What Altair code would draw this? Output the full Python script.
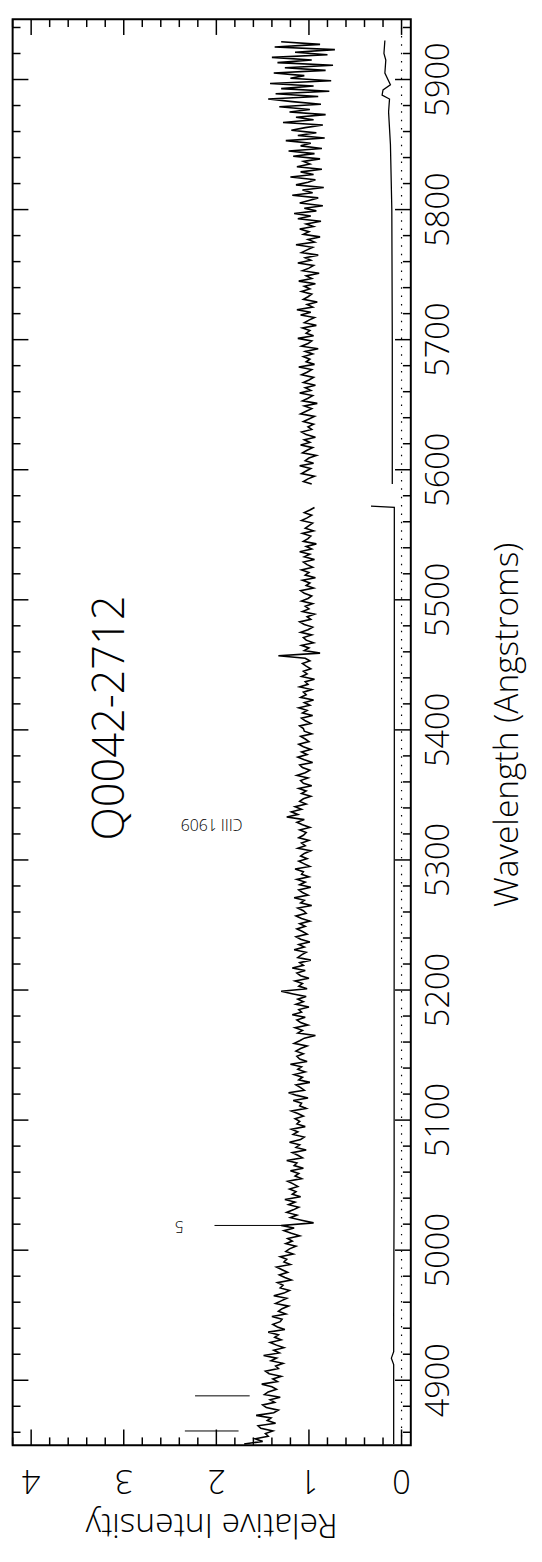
import altair as alt
import pandas as pd

# ---------------- data ----------------
# spectrum, segment A (blue of the gap), sampled every 2 Angstrom from 4851
SEG_A_START = 4851
SEG_A_STEP = 2
flux_a = [
    1.70, 1.50, 1.58, 1.44, 1.47, 1.39, 1.52, 1.55, 1.36, 1.45, 1.41, 1.57, 1.38, 1.33, 1.46, 1.50, 1.37, 1.42, 1.31, 1.48, 1.44, 1.35, 1.40, 1.51, 1.34,
    1.39, 1.30, 1.43, 1.47, 1.33, 1.36, 1.28, 1.41, 1.35, 1.49, 1.32, 1.38, 1.27, 1.35, 1.42, 1.30, 1.37, 1.33, 1.44, 1.26, 1.34, 1.39, 1.31, 1.29, 1.40,
    1.25, 1.33, 1.29, 1.22, 1.36, 1.30, 1.24, 1.38, 1.27, 1.21, 1.31, 1.28, 1.34, 1.19, 1.26, 1.32, 1.23, 1.29, 1.35, 1.20, 1.27, 1.24, 1.31, 1.17, 1.25,
    1.21, 1.14, 1.25, 1.18, 1.23, 1.10, 1.19, 1.27, 1.16, 1.30, 0.95, 1.08, 1.20, 1.13, 1.24, 1.17, 1.11, 1.22, 1.15, 1.26, 1.09, 1.18, 1.14, 1.21, 1.12,
    1.17, 1.23, 1.08, 1.15, 1.11, 1.20, 1.06, 1.16, 1.13, 1.24, 1.07, 1.12, 1.18, 1.03, 1.14, 1.10, 1.21, 1.09, 1.05, 1.17, 1.12, 1.19, 1.04, 1.13, 1.10,
    1.15, 1.06, 1.12, 1.19, 1.03, 1.10, 1.08, 1.17, 1.01, 1.13, 1.22, 1.05, 1.09, 1.14, 0.99, 1.11, 1.07, 1.16, 1.04, 1.12, 1.08, 1.20, 1.02, 1.10, 1.13,
    1.06, 1.14, 1.09, 1.02, 1.16, 1.10, 1.05, 0.93, 1.12, 1.07, 1.15, 1.01, 1.09, 1.13, 1.04, 1.18, 1.08, 1.11, 1.00, 1.14, 1.06, 1.12, 1.03, 1.17, 1.30,
    1.02, 1.11, 1.07, 1.15, 1.00, 1.09, 1.13, 1.04, 1.18, 1.06, 1.10, 0.98, 1.12, 1.08, 1.03, 1.16, 1.05, 1.11, 0.99, 1.09, 1.14, 1.02, 1.07, 1.13, 1.04,
    1.10, 0.99, 1.08, 1.14, 1.03, 1.06, 1.12, 0.97, 1.09, 1.05, 1.16, 1.01, 1.07, 1.11, 0.98, 1.10, 1.04, 1.13, 1.00, 1.08, 1.06, 1.15, 0.99, 1.05, 1.11,
    1.02, 1.09, 1.05, 0.98, 1.12, 1.04, 1.08, 1.00, 1.11, 1.06, 1.03, 1.10, 0.99, 1.07, 1.13, 1.05, 1.24, 1.12, 1.19, 1.08, 1.15, 1.03, 1.10, 1.06, 0.98,
    1.08, 1.03, 1.11, 0.97, 1.06, 1.09, 1.01, 1.13, 1.04, 0.99, 1.07, 1.10, 0.96, 1.05, 1.12, 1.02, 1.08, 0.98, 1.06, 1.11, 1.00, 1.04, 1.09, 0.97, 1.05,
    1.06, 1.10, 0.98, 1.04, 1.08, 0.96, 1.07, 1.02, 1.11, 0.99, 1.05, 0.95, 1.09, 1.03, 1.06, 0.97, 1.10, 1.01, 1.04, 0.94, 1.08, 1.02, 1.06, 0.98, 1.03,
    1.07, 0.99, 1.04, 1.33, 0.88, 1.05, 1.00, 1.08, 0.95, 1.03, 1.06, 0.97, 1.09, 1.01, 0.96, 1.05, 1.10, 0.98, 1.02, 0.94, 1.07, 1.00, 1.04, 0.96, 1.08,
    1.01, 0.97, 1.05, 1.09, 0.95, 1.03, 0.99, 1.07, 0.93, 1.04, 1.00, 1.08, 0.96, 1.02, 1.06, 0.94, 1.05, 0.99, 1.10, 0.97, 1.03, 0.92, 1.06, 1.01, 0.98,
    1.07, 0.95, 1.04, 1.00, 0.96, 1.08, 1.02, 0.97, 1.05, 0.99, 0.94,
]
# spectrum, segment B (red of the gap)
SEG_B_START = 5589
SEG_B_STEP = 2
flux_b = [
    0.97, 1.06, 1.01, 0.94, 1.08, 1.03, 0.98, 1.10, 0.95, 1.04, 1.00, 0.92, 1.07, 1.02, 0.96, 1.09, 0.99, 1.05, 0.93, 1.03, 1.08, 0.97, 1.01, 0.95, 1.06,
    1.00, 0.94, 1.09, 1.03, 0.97, 1.05, 0.91, 1.07, 1.01, 0.96, 1.10, 0.98, 1.04, 0.93, 1.06, 1.00, 0.95, 1.08, 1.02, 0.97, 1.11, 0.94, 1.03, 0.99, 1.06,
    0.96, 1.04, 0.90, 1.08, 1.01, 0.97, 1.12, 0.95, 1.03, 0.99, 1.07, 0.92, 1.05, 1.00, 0.94, 1.09, 0.98, 1.13, 0.96, 1.02, 0.91, 1.06, 1.01, 0.97, 1.08,
    0.99, 1.05, 0.93, 1.11, 0.97, 1.03, 0.89, 1.07, 1.00, 0.95, 1.12, 0.98, 1.04, 0.90, 1.08, 1.02, 0.96, 1.14, 0.94, 1.01, 0.88, 1.06, 1.00, 1.10, 0.95,
    1.03, 0.87, 1.12, 0.98, 1.16, 0.92, 1.05, 0.85, 1.10, 1.00, 0.90, 1.18, 0.96, 1.07, 0.84, 1.14, 1.01, 0.93, 1.20, 0.95, 1.09, 0.86, 1.13, 0.99, 1.06,
    0.88, 1.17, 0.94, 1.22, 0.86, 1.09, 0.98, 1.25, 0.83, 1.12, 0.92, 1.19, 1.04, 0.85, 1.28, 0.95, 1.14, 0.82, 1.21, 0.99, 1.32, 0.87, 1.18, 1.44, 0.90,
    1.36, 0.78, 1.30, 0.95, 1.42, 0.76, 1.20, 1.05, 1.38, 0.82, 1.26, 0.74, 1.34, 0.97, 1.40, 0.80, 1.15, 0.72, 1.37, 0.88, 1.30,
]

# error spectrum (sigma)
err_wl_a = [4851, 4880, 4912, 4917, 4922, 4950, 5050, 5200, 5350, 5500, 5571, 5572]
err_a = [0.085, 0.085, 0.085, 0.11, 0.085, 0.085, 0.08, 0.08, 0.078, 0.078, 0.078, 0.33]
err_wl_b = [5589, 5700, 5800, 5850, 5875, 5885, 5888, 5892, 5896, 5905, 5915, 5920, 5930]
err_b = [0.10, 0.10, 0.105, 0.12, 0.14, 0.13, 0.21, 0.20, 0.12, 0.18, 0.17, 0.19, 0.18]

# line identification marks
mark_wl = [4861, 4888, 5019]
mark_x1 = [2.34, 2.23, 2.02]
mark_x2 = [1.76, 1.64, 1.22]
label_text = ["5", "CIII 1909"]
label_wl = [5019, 5328]
label_x = [2.40, 2.05]

# axes
int_major = [0, 1, 2, 3, 4]
int_minor = [0.2, 0.4, 0.6, 0.8, 1.2, 1.4, 1.6, 1.8, 2.2, 2.4, 2.6, 2.8,
             3.2, 3.4, 3.6, 3.8, 4.2]
wl_major = [4900, 5000, 5100, 5200, 5300, 5400, 5500, 5600, 5700, 5800, 5900]
wl_minor = [w for w in range(4860, 5950, 20) if w % 100 != 0]

TITLE = "Q0042-2712"
XTITLE = "Relative  Intensity"
YTITLE = "Wavelength  (Angstroms)"

# ---------------- layout ----------------
W, H = 404, 1447
XDOM = [-0.1, 4.2]
YDOM = [4850, 5946.4]
FONT = "Open Sans"
FW = 300
MAJ, MIN = 16, 8

xs = alt.Scale(domain=XDOM, reverse=True, nice=False, zero=False)
ys = alt.Scale(domain=YDOM, nice=False, zero=False)

spec_rows = []
for i, f in enumerate(flux_a):
    spec_rows.append({"wl": SEG_A_START + SEG_A_STEP * i, "flux": f, "seg": "a"})
for i, f in enumerate(flux_b):
    spec_rows.append({"wl": SEG_B_START + SEG_B_STEP * i, "flux": f, "seg": "b"})
spec = pd.DataFrame(spec_rows)

err_rows = [{"wl": w, "err": e, "seg": "a"} for w, e in zip(err_wl_a, err_a)]
err_rows += [{"wl": w, "err": e, "seg": "b"} for w, e in zip(err_wl_b, err_b)]
errdf = pd.DataFrame(err_rows)

X = lambda f: alt.X(f, type="quantitative", scale=xs, axis=None)
Y = lambda f: alt.Y(f, type="quantitative", scale=ys, axis=None)

spec_line = alt.Chart(spec).mark_line(color="black", strokeWidth=1.6, clip=True).encode(
    x=X("flux"), y=Y("wl"), detail="seg:N", order="wl:Q")
err_line = alt.Chart(errdf).mark_line(color="black", strokeWidth=1.3, clip=True).encode(
    x=X("err"), y=Y("wl"), detail="seg:N", order="wl:Q")

zero_line = alt.Chart(pd.DataFrame({"z": [0]})).mark_rule(
    color="black", strokeWidth=1.2, strokeDash=[1.5, 7]).encode(x=X("z"))

mk = pd.DataFrame({"wl": mark_wl, "x1": mark_x1, "x2": mark_x2})
mark_lines = alt.Chart(mk).mark_rule(color="black", strokeWidth=1).encode(
    y=Y("wl"), x=X("x1"), x2="x2")
lab = pd.DataFrame({"t": label_text, "wl": label_wl, "v": label_x})
mark_text = alt.Chart(lab).mark_text(font=FONT, fontWeight=FW, fontSize=16, angle=180,
                                     align="center", baseline="middle").encode(
    x=X("v"), y=Y("wl"), text="t:N")

imaj = pd.DataFrame({"v": int_major})
imin = pd.DataFrame({"v": int_minor})
wmaj = pd.DataFrame({"v": wl_major})
wmin = pd.DataFrame({"v": wl_minor})

ticks = []
for df, ln in ((imaj, MAJ), (imin, MIN)):
    ticks.append(alt.Chart(df).mark_rule(color="black", strokeWidth=1.5).encode(
        x=X("v"), y=alt.value(H), y2=alt.value(H - ln)))
    ticks.append(alt.Chart(df).mark_rule(color="black", strokeWidth=1.5).encode(
        x=X("v"), y=alt.value(0), y2=alt.value(ln)))
for df, ln in ((wmaj, MAJ), (wmin, MIN)):
    ticks.append(alt.Chart(df).mark_rule(color="black", strokeWidth=1.5).encode(
        y=Y("v"), x=alt.value(0), x2=alt.value(ln)))
    ticks.append(alt.Chart(df).mark_rule(color="black", strokeWidth=1.5).encode(
        y=Y("v"), x=alt.value(W), x2=alt.value(W - ln)))

int_labels = alt.Chart(imaj).mark_text(font=FONT, fontWeight=FW, fontSize=33, angle=180,
                                       align="center", baseline="middle").encode(
    x=X("v"), y=alt.value(1490 - 8), text=alt.Text("v:Q", format="d"))
wl_labels = alt.Chart(wmaj).mark_text(font=FONT, fontWeight=FW, fontSize=33, angle=270,
                                      align="center", baseline="middle").encode(
    y=Y("v"), x=alt.value(445 - 12.7), text=alt.Text("v:Q", format="d"))

titles = pd.DataFrame({
    "t": [TITLE, XTITLE, YTITLE],
    "px": [113 - 12.7, W / 2, 515 - 12.7],
    "py": [717 - 8, 1535 - 8, 724 - 8],
    "ang": [270, 180, 270],
    "fs": [44, 34, 34],
})
title_marks = []
for _, r in titles.iterrows():
    title_marks.append(alt.Chart(pd.DataFrame({"t": [r["t"]]})).mark_text(
        font=FONT, fontWeight=FW, fontSize=float(r["fs"]), angle=float(r["ang"]),
        align="center", baseline="middle").encode(
        x=alt.value(float(r["px"])), y=alt.value(float(r["py"])), text="t:N"))

chart = alt.layer(
    zero_line, err_line, spec_line, mark_lines, mark_text,
    *ticks, int_labels, wl_labels, *title_marks
).properties(
    width=W, height=H,
    autosize=alt.AutoSizeParams(type="none"),
    padding={"left": 4.7, "top": 0, "right": 125, "bottom": 100},
).configure_view(stroke="black", strokeWidth=2)

chart.save("out.html", embed_options={"renderer": "svg", "actions": False})
